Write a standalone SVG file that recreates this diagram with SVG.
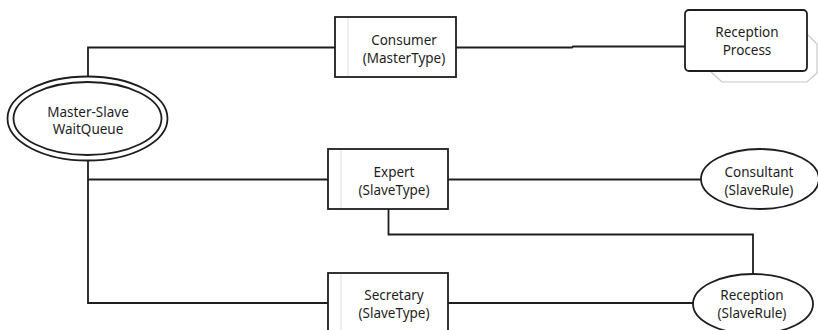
<svg xmlns="http://www.w3.org/2000/svg" width="818" height="330" viewBox="0 0 818 330">
<style>
.bg{fill:#fff}
.box{fill:#fff;stroke:#1e1e1e;stroke-width:1.8}
.inner{stroke:#ddd;stroke-width:1;fill:none}
.shadow{fill:#fff;stroke:#c8c8c8;stroke-width:1.2}
.conn{fill:none;stroke:#1e1e1e;stroke-width:1.8}
text{font-family:"Noto Sans","Open Sans","Liberation Sans",sans-serif;font-size:13.5px;fill:#1e1e1e;text-anchor:middle}
</style>
<rect class="bg" x="0" y="0" width="818" height="330"/>
<g id="connectors">
<polyline class="conn" points="88,77 88,47.5 335,47.5"/>
<polyline class="conn" points="456,47.5 572,47.5 573,46.5 686,46.5"/>
<polyline class="conn" points="88,160 88,303 328,303"/>
<polyline class="conn" points="88,179.5 328,179.5"/>
<polyline class="conn" points="448,179.5 701,179.5"/>
<polyline class="conn" points="388.5,209 388.5,234.5 753,234.5 753,274"/>
<polyline class="conn" points="448,303 693,303"/>
</g>
<g id="master-slave-waitqueue">
<ellipse class="box" cx="87.5" cy="118.5" rx="80" ry="42"/>
<ellipse class="box" cx="87.5" cy="118.5" rx="74" ry="36.5"/>
<text x="88" y="117">Master-Slave</text>
<text x="88" y="134">WaitQueue</text>
</g>
<g id="consumer">
<rect class="box" x="335" y="17" width="121" height="60"/>
<line class="inner" x1="348" y1="18" x2="348" y2="76"/>
<text x="404" y="45">Consumer</text>
<text x="404" y="63">(MasterType)</text>
</g>
<g id="reception-process">
<polygon class="shadow" points="806,33 817,44 817,73 807,82 722,82 710,71 806,71"/>
<rect class="box" x="685" y="10" width="122" height="61" rx="4"/>
<text x="747" y="37">Reception</text>
<text x="747" y="55">Process</text>
</g>
<g id="expert">
<rect class="box" x="328" y="149" width="120" height="60"/>
<line class="inner" x1="341" y1="150" x2="341" y2="208"/>
<text x="394" y="177">Expert</text>
<text x="394" y="195">(SlaveType)</text>
</g>
<g id="consultant">
<ellipse class="box" cx="760" cy="179" rx="59" ry="30"/>
<text x="759" y="177">Consultant</text>
<text x="759" y="195">(SlaveRule)</text>
</g>
<g id="secretary">
<rect class="box" x="328" y="273" width="120" height="62"/>
<line class="inner" x1="341" y1="274" x2="341" y2="330"/>
<text x="394" y="300">Secretary</text>
<text x="394" y="318">(SlaveType)</text>
</g>
<g id="reception">
<ellipse class="box" cx="753" cy="304" rx="60" ry="30"/>
<text x="752" y="300">Reception</text>
<text x="752" y="318">(SlaveRule)</text>
</g>
</svg>
